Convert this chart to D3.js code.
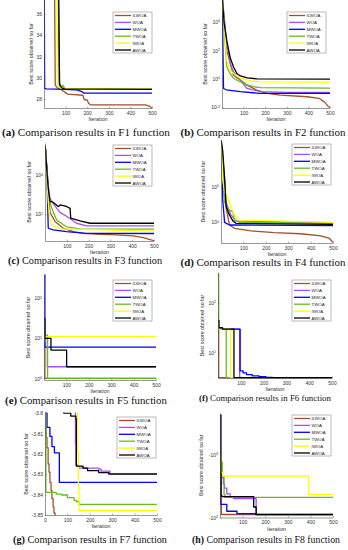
<!DOCTYPE html>
<html>
<head>
<meta charset="utf-8">
<script src="https://cdn.jsdelivr.net/npm/d3@7/dist/d3.min.js"></script>
<style>
  body { margin: 0; background: #fff; }
  svg { display: block; }
</style>
</head>
<body>
<div id="chart"></div>
<script>
const width = 348;
const height = 550;

// algorithms, in legend / drawing order
const algorithms = ["ILWOA", "WOA", "MWOA", "TWOA", "IWOA", "AWOA"];
const lineColors = ["#a0522d", "#a64dff", "#0000ff", "#66bb22", "#ffff00", "#000000"];

const xTicks = [100, 200, 300, 400, 500];
const xTicksG = [0, 100, 200, 300, 400, 500];

// convergence curves: [iteration, best score], one list per algorithm (order above)
const F1 = [
  [[1,40],[49,38],[52,29.3],[62,29.05],[75,28.95],[88,28.75],[100,28.6],[110,28.45],[180,28.35],[186,27.95],[200,27.9],[206,27.6],[215,27.45],[470,27.45],[490,27.3],[500,27.1]],
  [[1,40],[66,38],[70,29.3],[82,29.0],[100,28.95],[500,28.95]],
  [[1,40],[3,29.0],[10,28.95],[60,28.92],[150,28.85],[170,28.75],[185,28.55],[500,28.55]],
  [[1,40],[67,38],[72,29.6],[78,29.1],[88,29.3],[95,29.0],[500,28.93]],
  [[1,40],[60,38],[64,29.2],[80,29.0],[500,28.92]],
  [[1,40],[68,38],[72,29.4],[82,29.05],[95,28.95],[500,28.9]]
];
const F2 = [
  [[1,6e5],[22,100],[53,1.8],[85,0.81],[116,0.36],[162,0.16],[209,0.095],[271,0.072],[395,0.055],[449,0.043],[472,0.025],[491,0.012],[500,0.0095]],
  [[1,6e5],[22,300],[38,12],[53,3.2],[85,0.81],[116,0.21],[178,0.126],[300,0.11],[500,0.11]],
  [[1,6e5],[3,3000],[7,0.21],[20,0.17],[85,0.126],[177,0.095],[500,0.095]],
  [[1,6e5],[22,7],[38,2.2],[53,1.1],[85,0.6],[116,0.38],[147,0.28],[177,0.24],[500,0.22]],
  [[1,6e5],[22,20],[38,4],[53,2.4],[85,1.1],[131,0.72],[177,0.62],[500,0.59]],
  [[1,6e5],[10,8000],[22,500],[38,30],[53,7],[69,2.4],[85,1.6],[116,1.15],[162,1.0],[500,0.95]]
];
const F3 = [
  [[1,3.2e5],[23,126],[46,43],[84,19.5],[130,13],[176,10.7],[252,9.5],[329,8.9],[405,8],[451,6.5],[482,5.2],[500,4.5]],
  [[1,3.2e5],[15,3200],[23,630],[54,200],[69,126],[99,80],[145,35],[191,26],[500,26]],
  [[1,3.2e5],[8,2e4],[15,19.5],[38,16],[99,13],[191,10.7],[500,10.5]],
  [[1,3.2e5],[15,1000],[31,200],[54,50],[99,23],[161,18],[500,17.4]],
  [[1,3.2e5],[15,400],[23,63],[31,28],[69,18],[500,14]],
  [[1,3.2e5],[8,2e4],[15,2000],[23,450],[38,400],[61,250],[69,300],[99,250],[115,200],[118,63],[161,46],[206,35],[500,35]]
];
const F4 = [
  [[1,3e11],[16,1.6e6],[23,91],[38,0.43],[60,0.145],[134,0.063],[238,0.035],[356,0.025],[445,0.0126],[482,0.0063],[500,0.0016]],
  [[1,3e11],[16,2500],[30,160],[45,10],[67,1.6],[500,0.8]],
  [[1,3e11],[8,1000],[16,1.0],[38,0.42],[500,0.34]],
  [[1,3e11],[16,800],[23,160],[38,50],[53,32],[60,2.1],[82,1.0],[500,0.72]],
  [[1,3e11],[8,1e6],[16,2e4],[30,2500],[45,160],[60,10],[82,2.1],[500,1.0]],
  [[1,3e11],[8,8e9],[16,1.6e6],[23,160],[38,10],[53,1.6],[67,0.72],[500,0.52]]
];
const F5 = [
  [[1,8],[4,1.0],[500,1.0]],
  [[1,10],[15,1.95],[500,1.95]],
  [[1,400],[4,6],[500,6]],
  [[1,12],[16,1.0],[500,1.0]],
  [[1,11],[500,11]],
  [[1,31],[4,10],[31,5.1],[101,1.95],[500,1.95]]
];
const F6 = [
  [[1,30],[3,3.2],[500,3.2]],
  [[1,30],[95,3.2],[500,3.2]],
  [[1,30],[97,4.4],[110,4.0],[125,3.7],[150,3.5],[180,3.35],[210,3.25],[240,3.2],[500,3.2]],
  [[1,400],[3,30],[36,3.2],[500,3.2]],
  [[1,30],[55,3.2],[500,3.2]],
  [[1,45],[4,32],[20,30],[70,3.2],[500,3.2]]
];
const F7 = [
  [[1,-3.79],[5,-3.812],[9,-3.817],[14,-3.825],[18,-3.829],[22,-3.834],[27,-3.838],[31,-3.842],[36,-3.846],[40,-3.849],[45,-3.853],[60,-3.858],[500,-3.86]],
  [[1,-3.79],[136,-3.815],[138,-3.8255],[150,-3.827],[240,-3.8275],[250,-3.8285],[290,-3.8297],[500,-3.8297]],
  [[1,-3.80],[9,-3.807],[22,-3.8115],[31,-3.8165],[42,-3.8195],[64,-3.834],[500,-3.834]],
  [[1,-3.80],[4,-3.8389],[50,-3.8398],[75,-3.8402],[100,-3.8415],[130,-3.8428],[140,-3.8434],[152,-3.8448],[500,-3.8448]],
  [[1,-3.79],[146,-3.819],[149,-3.836],[152,-3.8478],[500,-3.8478]],
  [[1,-3.79],[84,-3.8001],[115,-3.8015],[138,-3.803],[140,-3.826],[170,-3.827],[190,-3.8282],[240,-3.8292],[285,-3.830],[500,-3.830]]
];
const F8 = [
  [[1,-1500],[6,-8950],[500,-8950]],
  [[1,-1300],[6,-1800],[10,-2300],[15,-2900],[20,-3400],[30,-4200],[45,-4700],[60,-5000],[160,-9000],[500,-9000]],
  [[1,-230],[2,-6150],[30,-7950],[75,-8700],[156,-8900],[500,-8900]],
  [[1,-1300],[10,-2200],[18,-4300],[22,-4780],[500,-4780]],
  [[1,-1100],[5,-1900],[12,-2190],[392,-4270],[500,-4270]],
  [[1,-230],[4,-4500],[10,-4650],[149,-6800],[160,-9000],[500,-9000]]
];

// y tick labels
const F1_yTicks = [28, 30, 32, 34, 36];
const F2_yTicks = [-2, 0, 2, 4];      // powers of ten
const F3_yTicks = [2, 4];
const F4_yTicks = [0, 5];
const F5_yTicks = [0, 1, 2];
const F6_yTicks = [1, 2];
const F7_yTicks = [-3.8, -3.81, -3.82, -3.83, -3.84, -3.85];
const F8_yTicks = [3, 4];             // -10^n

// panel layout (pixel positions)
const layout = [
  {id: "a", fn: "F1", data: F1, type: "linear", domain: [27.15, 37.32], range: [108, 0],   yTicks: F1_yTicks, xt: xTicks,  xr: [44, 152],  step: false, legend: [113, 12],  yl: 31,  cap: [86, 136, 168]},
  {id: "b", fn: "F2", data: F2, type: "log",    domain: [0.0089, 3.5e5], range: [108, 0],  yTicks: F2_yTicks, xt: xTicks,  xr: [222, 330], step: false, legend: [287, 12],  yl: 205, cap: [263, 136, 165]},
  {id: "c", fn: "F3", data: F3, type: "log",    domain: [4.37, 4.27e5], range: [241, 143], yTicks: F3_yTicks, xt: xTicks,  xr: [45, 154],  step: false, legend: [113, 145], yl: 29,  cap: [85, 264, 154]},
  {id: "d", fn: "F4", data: F4, type: "log",    domain: [1.26e-3, 3.5e11], range: [243, 140], yTicks: F4_yTicks, xt: xTicks, xr: [221, 333], step: false, legend: [292, 144], yl: 203, cap: [263, 266, 165]},
  {id: "e", fn: "F5", data: F5, type: "log",    domain: [0.912, 380], range: [380, 275],   yTicks: F5_yTicks, xt: xTicks,  xr: [44, 156],  step: true,  legend: [113, 280], yl: 28,  cap: [86, 404, 162]},
  {id: "f", fn: "F6", data: F6, type: "log",    domain: [3.16, 398], range: [378, 273],    yTicks: F6_yTicks, xt: xTicks,  xr: [218, 332], step: true,  legend: [292, 280], yl: 202, cap: [265, 400.5, 132]},
  {id: "g", fn: "F7", data: F7, type: "linear", domain: [-3.85, -3.8], range: [515, 413],  yTicks: F7_yTicks, xt: xTicksG, xr: [45, 157],  step: true,  legend: [117, 417], yl: 26,  cap: [90, 543, 154]},
  {id: "h", fn: "F8", data: F8, type: "neglog", domain: [214, 10000], range: [413, 517.5], yTicks: F8_yTicks, xt: xTicks, xr: [220, 333], step: true,  legend: [292, 415], yl: 201, cap: [266, 543, 148]}
];

const svg = d3.select("#chart")
  .append("svg")
  .attr("width", width)
  .attr("height", height);

const tickFont = "'Liberation Sans', Arial, sans-serif";

function powLabel(sel, prefix, exp) {
  sel.text(null);
  sel.append("tspan").text(prefix + "10");
  sel.append("tspan").attr("dy", "-0.45em").attr("font-size", "3.6px").text(exp);
}

layout.forEach((p, k) => {
  const g = svg.append("g").attr("class", "panel-" + p.id);

  const x = d3.scaleLinear().domain([0, 500]).range(p.xr);
  const y = (p.type === "linear" ? d3.scaleLinear() : d3.scaleLog())
    .domain(p.domain).range(p.range);
  const yv = p.type === "neglog" ? v => y(-v) : v => y(v);

  const top = Math.min(...p.range), bottom = Math.max(...p.range);

  // clip
  g.append("clipPath").attr("id", "clip-" + p.id)
    .append("rect")
    .attr("x", p.xr[0]).attr("y", top - 0.5)
    .attr("width", p.xr[1] - p.xr[0] + 1).attr("height", bottom - top + 1);

  // curves
  const line = d3.line()
    .x(d => x(d[0]))
    .y(d => yv(d[1]))
    .curve(p.step ? d3.curveStepAfter : d3.curveLinear);

  g.append("g").attr("clip-path", `url(#clip-${p.id})`)
    .selectAll("path")
    .data(p.data)
    .enter()
    .append("path")
    .attr("d", line)
    .attr("fill", "none")
    .attr("stroke", (d, i) => lineColors[i])
    .attr("stroke-width", 1.3)
    .attr("stroke-linejoin", "round");

  // axes
  const xAxis = d3.axisBottom(x).tickValues(p.xt).tickSize(-1.5).tickSizeOuter(0).tickPadding(3);
  const gx = g.append("g")
    .attr("transform", `translate(0, ${bottom})`)
    .call(xAxis);

  let yAxis;
  if (p.type === "linear") {
    yAxis = d3.axisLeft(y).tickValues(p.yTicks).tickFormat(d => String(+d.toFixed(2)));
  } else {
    yAxis = d3.axisLeft(y).tickValues(p.yTicks.map(e => Math.pow(10, e)));
  }
  yAxis.tickSize(-1.5).tickSizeOuter(0).tickPadding(2);
  const gy = g.append("g")
    .attr("transform", `translate(${p.xr[0]}, 0)`)
    .call(yAxis);

  if (p.type !== "linear") {
    gy.selectAll(".tick text").each(function(d, i) {
      powLabel(d3.select(this), p.type === "neglog" ? "-" : "", p.yTicks[i]);
    });
  }

  [gx, gy].forEach(a => {
    a.select(".domain").attr("stroke", "#555").attr("stroke-width", 0.6);
    a.selectAll(".tick line").attr("stroke", "#555").attr("stroke-width", 0.5);
    a.selectAll(".tick text")
      .attr("fill", "#333")
      .attr("font-size", "5px")
      .attr("font-family", tickFont);
  });

  // axis titles
  g.append("text")
    .attr("x", (p.xr[0] + p.xr[1]) / 2)
    .attr("y", bottom + 13)
    .attr("text-anchor", "middle")
    .attr("font-size", "5.3px")
    .attr("font-family", tickFont)
    .attr("fill", "#333")
    .text("Iteration");

  g.append("text")
    .attr("transform", `translate(${p.yl}, ${(top + bottom) / 2}) rotate(-90)`)
    .attr("text-anchor", "middle")
    .attr("dy", "0.35em")
    .attr("font-size", "5.3px")
    .attr("font-family", tickFont)
    .attr("fill", "#333")
    .text("Best score obtained so far");

  // legend
  const lg = g.append("g").attr("transform", `translate(${p.legend[0]}, ${p.legend[1]})`);
  lg.append("rect")
    .attr("width", 39).attr("height", 41)
    .attr("fill", "#fff")
    .attr("stroke", "#777").attr("stroke-width", 0.5);
  const items = lg.selectAll(".item")
    .data(algorithms)
    .enter()
    .append("g")
    .attr("class", "item")
    .attr("transform", (d, i) => `translate(0, ${3.5 + i * 6.9})`);
  items.append("line")
    .attr("x1", 2).attr("x2", 18)
    .attr("stroke", (d, i) => lineColors[i])
    .attr("stroke-width", 1.3);
  items.append("text")
    .attr("x", 19.5)
    .attr("dy", "0.35em")
    .attr("font-size", "4.4px")
    .attr("font-family", tickFont)
    .attr("fill", "#222")
    .text(d => d);

  // caption
  const cap = svg.append("text")
    .attr("x", p.cap[0])
    .attr("y", p.cap[1])
    .attr("text-anchor", "middle")
    .attr("font-family", "'Liberation Serif', 'DejaVu Serif', serif")
    .attr("font-size", "10px")
    .attr("fill", "#111");
  cap.append("tspan").attr("font-weight", "bold").text(`(${p.id})`);
  cap.append("tspan").text(` Comparison results in ${p.fn} function`);
  const w = cap.node().getComputedTextLength();
  cap.attr("font-size", (10 * p.cap[2] / w).toFixed(2) + "px");
});
</script>
</body>
</html>
